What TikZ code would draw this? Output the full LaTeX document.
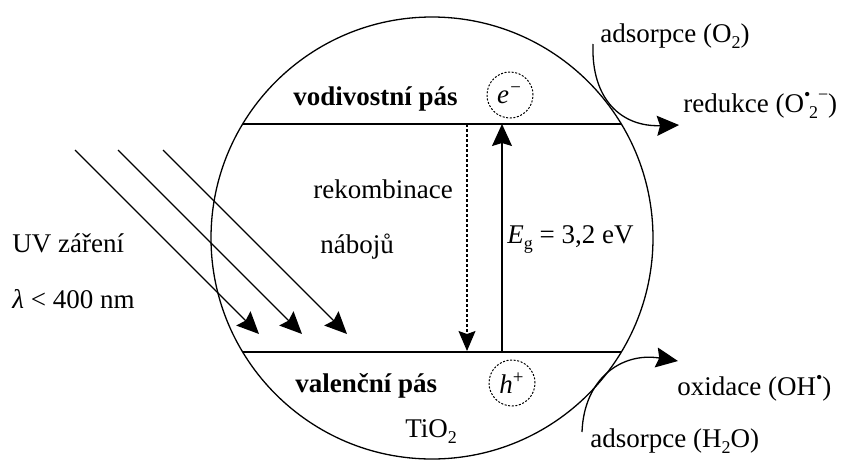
\documentclass[tikz,border=0pt]{standalone}
\usepackage{fontspec}
\setmainfont{Liberation Serif}
\usetikzlibrary{arrows.meta, positioning}
\newcommand\lowsub[1]{\raisebox{-0.5ex}{\fontsize{9}{9}\selectfont #1}}
\newcommand\highsup[1]{\raisebox{0.9ex}{\fontsize{9}{9}\selectfont #1}}
\tikzset{
  txt/.style={inner sep=0pt, anchor=base west, font=\fontsize{13.5}{16}\selectfont},
  bandtxt/.style={txt, font=\fontsize{13.5}{16}\selectfont\bfseries},
  carrier/.style={circle, draw, dash pattern=on 1pt off 0.8pt, line width=0.5pt,
    minimum size=23pt, inner sep=0pt, font=\fontsize{13.5}{16}\selectfont},
  ray/.style={-{Stealth[length=11pt, width=10pt, inset=1.5pt]}, line width=0.65pt},
  flow/.style={-{Stealth[length=11pt, width=10pt, inset=1.5pt]}, line width=0.65pt},
  recomb/.style={-{Stealth[length=10pt, width=8.5pt, inset=1.5pt]}, line width=0.55pt,
    dash pattern=on 1.5pt off 1pt},
  line/.style={line width=0.65pt}
}

\begin{document}
\begin{tikzpicture}[x=0.5pt, y=-0.5pt]
  \useasboundingbox (0,0) rectangle (846,467);

  % TiO2 grain
  \draw[line] (432,238) circle [radius=221];

  % bands
  \coordinate (cbL) at (243,124);
  \coordinate (cbR) at (621,124);
  \coordinate (vbL) at (243,352);
  \coordinate (vbR) at (621,352);
  \draw[line] (cbL) -- (cbR);
  \draw[line] (vbL) -- (vbR);

  \node[bandtxt] (cb) at (293,105) {vodivostní pás};
  \node[carrier] (el) at (510,95) {\itshape e\textsuperscript{−}};
  \node[bandtxt] (vb) at (295,392) {valenční pás};
  \node[carrier] (ho) at (512,383) {\itshape h\textsuperscript{\upshape +}};
  \node[txt] (tio) at (405,437) {TiO\lowsub{2}};

  % recombination and band gap
  \coordinate (rtop) at (467,124);
  \coordinate (rbot) at (467,351);
  \coordinate (gbot) at (502,352);
  \coordinate (gtop) at (502,124);
  \draw[recomb] (rtop) -- (rbot);
  \draw[flow] (gbot) -- (gtop);
  \node[txt] (rek) at (313,198) {rekombinace};
  \node[txt] (naboj) at (320,253) {nábojů};
  \node[txt] (eg) at (507,243) {{\itshape E}\lowsub{g} = 3,2 eV};

  % UV light
  \foreach \i/\x in {1/75, 2/118, 3/163} {
    \coordinate (ray\i s) at (\x,150);
    \coordinate (ray\i e) at (\x+184,334);
    \draw[ray] (ray\i s) -- (ray\i e);
  }
  \node[txt] (uv) at (12,252) {UV záření};
  \node[txt] (lam) at (12,308) {{\itshape λ} < 400 nm};

  % surface reactions
  \node[txt] (adso) at (600,42) {adsorpce (O\lowsub{2})};
  \node[txt] (red) at (683,112) {redukce (O\highsup{•}\kern-0.05em\lowsub{2}\highsup{−})};
  \node[txt] (oxi) at (677,395) {oxidace (OH\highsup{•})};
  \node[txt] (adsh) at (590,447) {adsorpce (H\lowsub{2}O)};

  \coordinate (oin) at (593,44);
  \coordinate (oout) at (679,125);
  \coordinate (hin) at (582,432);
  \coordinate (hout) at (678,361);
  \draw[flow] (oin) .. controls (591,100) and (622,127) .. (oout);
  \draw[flow] (hin) .. controls (584,378) and (622,352) .. (hout);
\end{tikzpicture}
\end{document}
